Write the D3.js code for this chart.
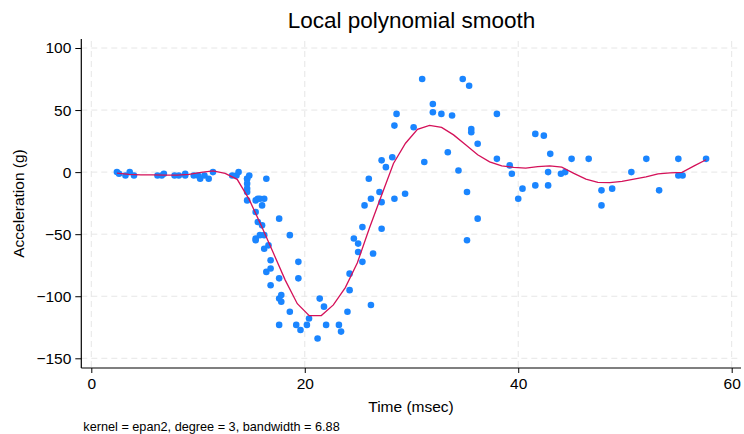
<!DOCTYPE html>
<html>
<head>
<meta charset="utf-8">
<script src="https://cdn.jsdelivr.net/npm/d3@7"></script>
<style>
  html, body { margin: 0; padding: 0; background: #fff; }
  svg { display: block; font-family: "Liberation Sans", Arial, sans-serif; }
</style>
</head>
<body>
<svg id="chart" width="744" height="434"></svg>
<script>
// mcycle data: time (msec) and head acceleration (g)
const times = [2.4, 2.6, 3.2, 3.6, 4.0, 6.2, 6.6, 6.8, 7.8, 8.2, 8.8, 8.8, 9.6, 10.0, 10.2, 10.6, 11.0, 11.4, 13.2, 13.6, 13.8, 14.6, 14.6, 14.6, 14.6, 14.6, 14.6, 14.8, 15.4, 15.4, 15.4, 15.4, 15.6, 15.6, 15.8, 15.8, 16.0, 16.0, 16.2, 16.2, 16.2, 16.4, 16.4, 16.6, 16.8, 16.8, 16.8, 17.6, 17.6, 17.6, 17.6, 17.8, 17.8, 18.6, 18.6, 19.2, 19.4, 19.4, 19.6, 20.2, 20.4, 21.2, 21.4, 21.8, 22.0, 23.2, 23.4, 24.0, 24.2, 24.2, 24.6, 25.0, 25.0, 25.4, 25.4, 25.6, 26.0, 26.2, 26.2, 26.4, 27.0, 27.2, 27.2, 27.2, 27.6, 28.2, 28.4, 28.4, 28.6, 29.4, 30.2, 31.0, 31.2, 32.0, 32.0, 32.8, 33.4, 33.8, 34.4, 34.8, 35.2, 35.2, 35.4, 35.6, 35.6, 36.2, 36.2, 38.0, 38.0, 39.2, 39.4, 40.0, 40.4, 41.6, 41.6, 42.4, 42.8, 42.8, 43.0, 44.0, 44.4, 45.0, 46.6, 47.8, 47.8, 48.8, 50.6, 52.0, 53.2, 55.0, 55.0, 55.4, 57.6];
const accel = [0.0, -1.3, -2.7, 0.0, -2.7, -2.7, -2.7, -1.3, -2.7, -2.7, -1.3, -2.7, -2.7, -2.7, -5.4, -2.7, -5.4, 0.0, -2.7, -2.7, 0.0, -13.3, -5.4, -5.4, -9.3, -16.0, -22.8, -2.7, -22.8, -32.1, -53.5, -54.9, -40.2, -21.5, -21.5, -50.8, -42.9, -26.8, -21.5, -50.8, -61.7, -5.4, -80.4, -59.0, -71.0, -91.1, -77.7, -37.5, -85.6, -123.1, -101.9, -99.1, -104.4, -112.5, -50.8, -123.1, -85.6, -72.3, -127.2, -123.1, -117.9, -134.0, -101.9, -108.4, -123.1, -123.1, -128.5, -112.5, -95.1, -81.8, -53.5, -64.4, -57.6, -72.3, -44.3, -26.8, -5.4, -107.1, -21.5, -65.6, -16.0, -45.6, -24.2, 9.5, 4.0, 12.0, -21.5, 37.5, 46.9, -17.4, 36.2, 75.0, 8.1, 54.9, 48.2, 46.9, 16.0, 45.6, 1.3, 75.0, -16.0, -54.9, 69.6, 34.8, 32.1, -37.5, 22.8, 46.9, 10.7, 5.4, -1.3, -21.5, -13.3, 30.8, -10.7, 29.4, 0.0, -10.7, 14.7, -1.3, 0.0, 10.7, 10.7, -26.8, -14.7, -13.3, 0.0, 10.7, -14.7, -2.7, 10.7, -2.7, 10.7];

// smoothed curve (50 grid points from 2.4 to 57.6)
const smoothX = [2.40, 3.53, 4.65, 5.78, 6.91, 8.03, 9.16, 10.29, 11.41, 12.54, 13.67, 14.79, 15.92, 17.05, 18.17, 19.30, 20.42, 21.55, 22.68, 23.80, 24.93, 26.06, 27.18, 28.31, 29.44, 30.56, 31.69, 32.82, 33.94, 35.07, 36.20, 37.32, 38.45, 39.58, 40.70, 41.83, 42.96, 44.08, 45.21, 46.34, 47.46, 48.59, 49.72, 50.84, 51.97, 53.10, 54.22, 55.35, 56.48, 57.60];
const smoothY = [-0.8, -1.8, -2.2, -2.3, -2.4, -2.4, -1.8, -0.2, 1.0, -1.0, -5.8, -22.0, -43.0, -65.0, -87.0, -106.0, -115.6, -115.6, -107.0, -93.0, -73.0, -45.0, -19.0, 7.0, 23.3, 34.4, 37.6, 36.0, 30.0, 22.0, 14.0, 8.3, 5.0, 3.9, 3.2, 4.4, 5.0, 4.0, -1.0, -5.6, -8.2, -8.4, -7.4, -5.6, -3.8, -1.4, -0.6, -0.2, 5.0, 10.0];

const xTicks = [0, 20, 40, 60];
const yTicks = [-150, -100, -50, 0, 50, 100];

const title = "Local polynomial smooth";
const xTitle = "Time (msec)";
const yTitle = "Acceleration (g)";
const note = "kernel = epan2, degree = 3, bandwidth = 6.88";

const svg = d3.select("#chart");
const plot = { left: 81.3, right: 741, top: 39, bottom: 368 };

const x = d3.scaleLinear().domain([0, 60]).range([91.3, 731.7]);
const y = d3.scaleLinear().domain([-150, 100]).range([358.3, 48]);

const gridColor = "#e6e6e6";

// gridlines
svg.append("g").selectAll("line").data(yTicks).join("line")
  .attr("x1", plot.left).attr("x2", plot.right - 2)
  .attr("y1", d => y(d)).attr("y2", d => y(d))
  .attr("stroke", gridColor).attr("stroke-width", 1)
  .attr("stroke-dasharray", "6,4");
svg.append("g").selectAll("line").data(xTicks).join("line")
  .attr("x1", d => x(d)).attr("x2", d => x(d))
  .attr("y1", plot.top + 2).attr("y2", plot.bottom)
  .attr("stroke", gridColor).attr("stroke-width", 1)
  .attr("stroke-dasharray", "6,4");

// axes
const xAxis = d3.axisBottom(x).tickValues(xTicks).tickSize(5).tickSizeOuter(0).tickPadding(5);
const gx = svg.append("g").attr("transform", `translate(0,${plot.bottom})`).call(xAxis);
gx.select(".domain").remove();
gx.selectAll("line").attr("stroke", "#000");
gx.selectAll("text").attr("font-size", 15.5).attr("fill", "#000")
  .attr("font-family", "Liberation Sans, Arial, sans-serif");

const yAxis = d3.axisLeft(y).tickValues(yTicks).tickSize(6).tickSizeOuter(0).tickPadding(4);
const gy = svg.append("g").attr("transform", `translate(${plot.left},0)`).call(yAxis);
gy.select(".domain").remove();
gy.selectAll("line").attr("stroke", "#000");
gy.selectAll("text").attr("font-size", 15.5).attr("fill", "#000")
  .attr("font-family", "Liberation Sans, Arial, sans-serif");

svg.append("line").attr("x1", plot.left).attr("x2", plot.right)
  .attr("y1", plot.bottom).attr("y2", plot.bottom)
  .attr("stroke", "#000").attr("stroke-width", 1.2);
svg.append("line").attr("x1", plot.left).attr("x2", plot.left)
  .attr("y1", plot.top).attr("y2", plot.bottom)
  .attr("stroke", "#000").attr("stroke-width", 1.2);

// points
const pts = times.map((t, i) => ({ t, a: accel[i] }));
svg.append("g").selectAll("circle").data(pts).join("circle")
  .attr("cx", d => x(d.t)).attr("cy", d => y(d.a)).attr("r", 3.3)
  .attr("fill", "#1a85ff");

// smooth line
const sm = smoothX.map((t, i) => [t, smoothY[i]]);
svg.append("path").datum(sm)
  .attr("d", d3.line().x(d => x(d[0])).y(d => y(d[1])))
  .attr("fill", "none").attr("stroke", "#d41159").attr("stroke-width", 1.3);

// titles
svg.append("text").attr("x", 411.5).attr("y", 28).attr("text-anchor", "middle")
  .attr("font-size", 22.5).attr("fill", "#000").text(title);
svg.append("text").attr("x", 411).attr("y", 412).attr("text-anchor", "middle")
  .attr("font-size", 15.5).attr("fill", "#000").text(xTitle);
svg.append("text").attr("transform", "translate(23.5,203.5) rotate(-90)")
  .attr("text-anchor", "middle").attr("font-size", 15.5).attr("fill", "#000").text(yTitle);
svg.append("text").attr("x", 83.3).attr("y", 431).attr("font-size", 12.7)
  .attr("fill", "#000").text(note);
</script>
</body>
</html>
